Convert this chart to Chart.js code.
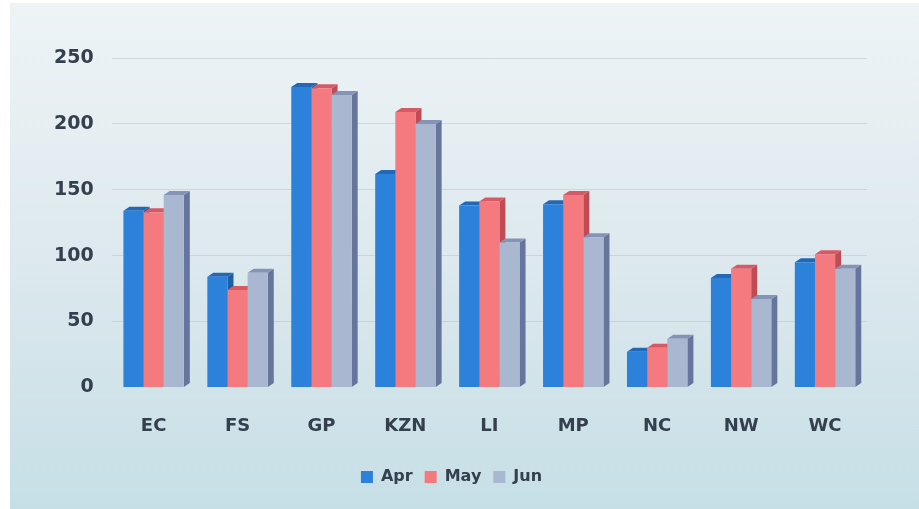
<!DOCTYPE html>
<html>
<head>
<meta charset="utf-8">
<script src="https://cdn.jsdelivr.net/npm/chart.js@4/dist/chart.umd.min.js"></script>
<style>
  html, body { margin: 0; padding: 0; background: #ffffff; }
  #wrap { width: 919px; height: 509px; position: relative; }
</style>
</head>
<body>
<div id="wrap"><canvas id="chart" width="919" height="509"></canvas></div>
<script>
// data
const categories = ['EC', 'FS', 'GP', 'KZN', 'LI', 'MP', 'NC', 'NW', 'WC'];
const aprValues = [134, 84, 228, 162, 138, 139, 27, 83, 95];
const mayValues = [133, 74, 227, 209, 141, 146, 30, 90, 101];
const junValues = [146, 87, 222, 200, 110, 114, 37, 67, 90];
const yTickValues = [0, 50, 100, 150, 200, 250];

const faceColors = ['#2c82da', '#f47a7f', '#aab7d1'];
const sideColors = ['#1d5ea6', '#bf4c55', '#66759c'];
const topColors  = ['#2368b4', '#d65a63', '#8593b6'];

// background gradient behind the plot
const bgPlugin = {
    id: 'bg',
    beforeDraw(chart) {
        const ctx = chart.ctx;
        const g = ctx.createLinearGradient(0, 0, 0, chart.height);
        g.addColorStop(0, '#eef4f6');
        g.addColorStop(0.5, '#dde9ee');
        g.addColorStop(1, '#c6dfe6');
        ctx.save();
        ctx.fillStyle = g;
        ctx.fillRect(10, 3, chart.width - 10, chart.height - 3);
        ctx.restore();
    }
};

// fake 3D: side and top faces drawn first, the bar fronts then cover the hidden parts
const depthPlugin = {
    id: 'depth',
    beforeDatasetsDraw(chart) {
        const ctx = chart.ctx;
        const dx = 6, dy = 4;
        ctx.save();
        chart.data.datasets.forEach((ds, i) => {
            chart.getDatasetMeta(i).data.forEach(bar => {
                const p = bar.getProps(['x', 'y', 'base', 'width'], true);
                const l = p.x - p.width / 2, r = p.x + p.width / 2;
                ctx.fillStyle = sideColors[i];
                ctx.beginPath();
                ctx.moveTo(r, p.y);
                ctx.lineTo(r + dx, p.y - dy);
                ctx.lineTo(r + dx, p.base - dy);
                ctx.lineTo(r, p.base);
                ctx.closePath();
                ctx.fill();
                ctx.fillStyle = topColors[i];
                ctx.beginPath();
                ctx.moveTo(l, p.y);
                ctx.lineTo(l + dx, p.y - dy);
                ctx.lineTo(r + dx, p.y - dy);
                ctx.lineTo(r, p.y);
                ctx.closePath();
                ctx.fill();
            });
        });
        ctx.restore();
    }
};

const fontFamily = "'DejaVu Sans', Verdana, sans-serif";
const textColor = '#34404e';

new Chart(document.getElementById('chart'), {
    type: 'bar',
    data: {
        labels: categories,
        datasets: [
            { label: 'Apr', data: aprValues, backgroundColor: faceColors[0] },
            { label: 'May', data: mayValues, backgroundColor: faceColors[1] },
            { label: 'Jun', data: junValues, backgroundColor: faceColors[2] }
        ]
    },
    options: {
        responsive: false,
        animation: false,
        layout: { padding: { left: 36, right: 52, top: 58, bottom: 14 } },
        datasets: { bar: { categoryPercentage: 0.72, barPercentage: 1.0, borderWidth: 0 } },
        plugins: {
            legend: {
                position: 'bottom',
                labels: {
                    font: { family: fontFamily, size: 16, weight: 'bold' },
                    color: textColor,
                    boxWidth: 12,
                    boxHeight: 12,
                    padding: 12
                }
            },
            tooltip: { enabled: false }
        },
        scales: {
            x: {
                grid: { display: false },
                border: { display: false },
                ticks: {
                    font: { family: fontFamily, size: 18, weight: 'bold' },
                    color: textColor,
                    padding: 20
                }
            },
            y: {
                min: 0,
                max: 250,
                afterBuildTicks(axis) {
                    axis.ticks = yTickValues.map(v => ({ value: v }));
                },
                grid: {
                    color: ctx => ctx.tick.value === 0 ? 'rgba(0,0,0,0)' : 'rgba(185,198,207,0.55)',
                    drawTicks: false
                },
                border: { display: false },
                ticks: {
                    font: { family: fontFamily, size: 19, weight: 'bold' },
                    color: textColor,
                    padding: 18
                }
            }
        }
    },
    plugins: [bgPlugin, depthPlugin]
});
</script>
</body>
</html>
